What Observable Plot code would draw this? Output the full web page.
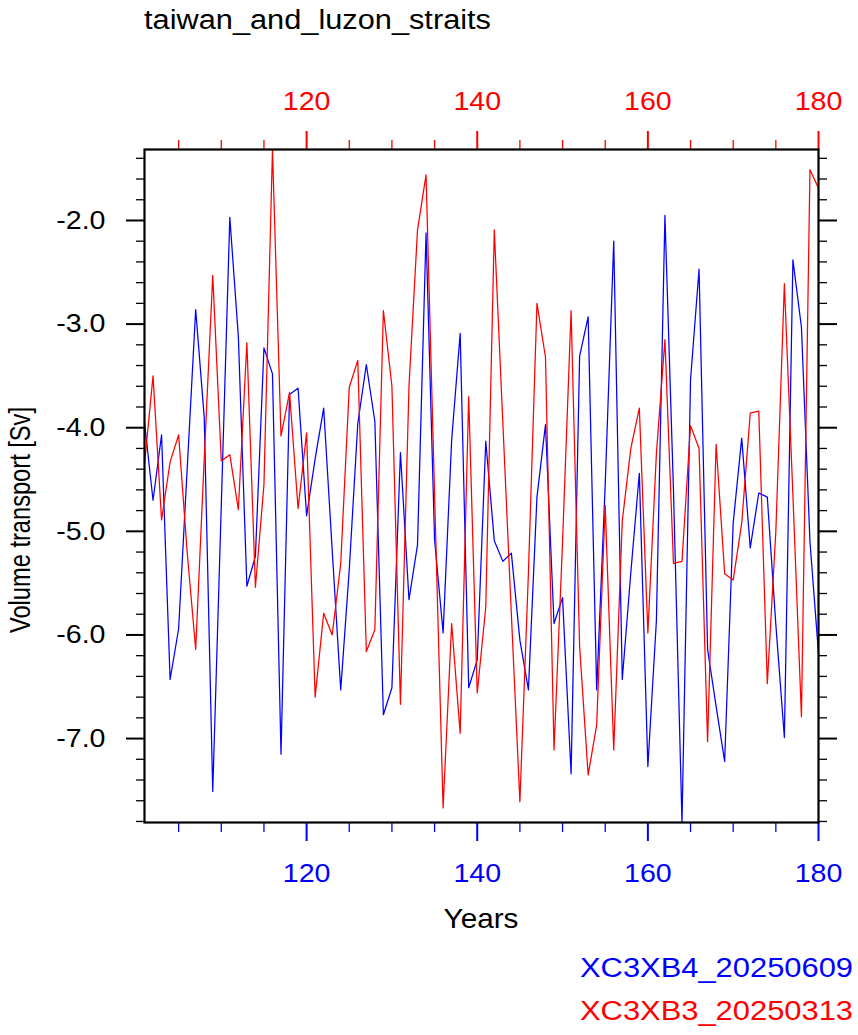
<!DOCTYPE html>
<html>
<head>
<meta charset="utf-8">
<script src="https://cdn.jsdelivr.net/npm/d3@7"></script>
<script src="https://cdn.jsdelivr.net/npm/@observablehq/plot@0.6"></script>
<style>
  html, body { margin: 0; padding: 0; background: #fff; }
  #chart svg { display: block; }
</style>
</head>
<body>
<div id="chart"></div>
<script>
// Annual volume transport through the Taiwan and Luzon straits, two model runs.
const title = "taiwan_and_luzon_straits";
const xLabel = "Years";
const yLabel = "Volume transport [Sv]";
const seriesNames = ["XC3XB4_20250609", "XC3XB3_20250313"];
const seriesColors = ["#0000ff", "#ff0000"];

const firstYear = 101;
const lastYear = 180;

// XC3XB4_20250609, years 101..180 [Sv]
const xc3xb4 = [
  -3.95, -4.70, -4.07, -6.43, -5.94, -4.40, -2.86, -3.90, -7.51, -4.75,
  -1.97, -3.12, -5.53, -5.24, -3.23, -3.48, -7.15, -3.68, -3.62, -4.85,
  -4.30, -3.81, -5.18, -6.53, -5.37, -3.96, -3.39, -3.94, -6.77, -6.51,
  -4.24, -5.66, -5.13, -2.12, -5.08, -5.98, -4.12, -3.09, -6.51, -6.24,
  -4.13, -5.09, -5.29, -5.21, -6.05, -6.53, -4.67, -3.97, -5.89, -5.64,
  -7.34, -3.31, -2.93, -6.53, -4.55, -2.20, -6.43, -5.40, -4.44, -7.27,
  -5.86, -1.95, -4.60, -7.81, -3.54, -2.47, -6.14, -6.69, -7.22, -4.92,
  -4.10, -5.16, -4.63, -4.67, -5.90, -6.99, -2.38, -3.03, -5.10, -6.18
];

// XC3XB3_20250313, years 101..180 [Sv]
const xc3xb3 = [
  -4.35, -3.50, -4.89, -4.33, -4.07, -5.20, -6.14, -4.30, -2.53, -4.32,
  -4.26, -4.79, -3.18, -5.54, -4.55, -1.315, -4.08, -3.66, -4.78, -4.05,
  -6.60, -5.79, -6.00, -5.31, -3.61, -3.35, -6.16, -5.95, -2.87, -3.60,
  -6.67, -3.60, -2.09, -1.56, -4.65, -7.67, -5.89, -6.95, -3.70, -6.56,
  -5.73, -2.09, -3.95, -5.80, -7.61, -5.40, -2.80, -3.32, -7.11, -5.10,
  -2.87, -6.11, -7.35, -6.87, -4.75, -7.11, -4.90, -4.20, -3.81, -5.98,
  -4.25, -3.15, -5.31, -5.29, -3.98, -4.20, -7.03, -4.16, -5.41, -5.47,
  -4.92, -3.86, -3.84, -6.47, -5.00, -2.61, -4.65, -6.79, -1.51, -1.69
];

// Tick positions
const xMajorTicks = [120, 140, 160, 180];
const xMinorTicks = [105, 110, 115, 125, 130, 135, 145, 150, 155, 165, 170, 175];
const yMajorTicks = [-7, -6, -5, -4, -3, -2];
const yMinorTicks = [-7.8, -7.6, -7.4, -7.2, -6.8, -6.6, -6.4, -6.2, -5.8, -5.6, -5.4, -5.2,
                     -4.8, -4.6, -4.4, -4.2, -3.8, -3.6, -3.4, -3.2, -2.8, -2.6, -2.4, -2.2,
                     -1.8, -1.6, -1.4];

const toRows = (vals, name) => vals.map((v, i) => ({year: firstYear + i, value: v, name}));
const rowsB4 = toRows(xc3xb4, seriesNames[0]);
const rowsB3 = toRows(xc3xb3, seriesNames[1]);

const W = 858, H = 1035;
const fontFamily = "'Liberation Sans', Arial, Helvetica, sans-serif";
const fontSize = 26;
const stretch = 1.1; // wide sans-serif look

const chart = Plot.plot({
  width: W,
  height: H,
  marginLeft: 144,
  marginRight: 40,
  marginTop: 149,
  marginBottom: 213,
  style: {fontFamily, background: "white", overflow: "visible"},
  x: {domain: [firstYear, lastYear]},
  y: {domain: d3.extent([...xc3xb4, ...xc3xb3])},
  marks: [
    Plot.line(rowsB4, {x: "year", y: "value", stroke: seriesColors[0], strokeWidth: 1.25}),
    Plot.line(rowsB3, {x: "year", y: "value", stroke: seriesColors[1], strokeWidth: 1.25}),

    // left and right y ticks (black), labels on the left only
    Plot.axisY({anchor: "left", ticks: yMinorTicks, tickSize: 8, tickFormat: () => "", strokeWidth: 1.3, label: null}),
    Plot.axisY({anchor: "left", ticks: yMajorTicks, tickSize: 18, tickPadding: 21, strokeWidth: 2,
                tickFormat: d => d.toFixed(1), fontSize, label: null}),
    Plot.axisY({anchor: "right", ticks: yMinorTicks, tickSize: 8, tickFormat: () => "", strokeWidth: 1.3, label: null}),
    Plot.axisY({anchor: "right", ticks: yMajorTicks, tickSize: 18, tickFormat: () => "", strokeWidth: 2, label: null}),

    // bottom x axis in the first series colour
    Plot.axisX({anchor: "bottom", ticks: xMinorTicks, tickSize: 10, tickFormat: () => "", color: seriesColors[0], strokeWidth: 1.3, label: null}),
    Plot.axisX({anchor: "bottom", ticks: xMajorTicks, tickSize: 19, tickPadding: 22, color: seriesColors[0], strokeWidth: 2,
                tickFormat: d => String(d), fontSize, label: null}),

    // top x axis in the second series colour
    Plot.axisX({anchor: "top", ticks: xMinorTicks, tickSize: 10, tickFormat: () => "", color: seriesColors[1], strokeWidth: 1.3, label: null}),
    Plot.axisX({anchor: "top", ticks: xMajorTicks, tickSize: 19, tickPadding: 21, color: seriesColors[1], strokeWidth: 2,
                tickFormat: d => String(d), fontSize, label: null}),

    Plot.frame({stroke: "black", strokeWidth: 2.2})
  ]
});

// Widen tick labels horizontally about their anchor point
d3.select(chart).selectAll("g[aria-label$='tick label'] text").each(function () {
  const t = this.getAttribute("transform");
  if (t) {
    this.setAttribute("transform", `${t} scale(${stretch},1)`);
  } else {
    const x = +this.getAttribute("x") || 0, y = +this.getAttribute("y") || 0;
    this.setAttribute("transform", `translate(${x},${y}) scale(${stretch},1) translate(${-x},${-y})`);
  }
});

const svg = d3.select(chart);
const labels = svg.append("g").attr("font-family", fontFamily);

// Title, left aligned with the frame
labels.append("text")
  .attr("x", 144).attr("y", 29)
  .attr("text-anchor", "start")
  .attr("font-size", 27)
  .attr("textLength", 347).attr("lengthAdjust", "spacingAndGlyphs")
  .attr("fill", "black")
  .text(title);

// x axis title
labels.append("text")
  .attr("transform", `translate(481,928) scale(${stretch},1)`)
  .attr("text-anchor", "middle")
  .attr("font-size", 27)
  .attr("fill", "black")
  .text(xLabel);

// y axis title
labels.append("text")
  .attr("transform", "translate(30,520) rotate(-90)")
  .attr("text-anchor", "middle")
  .attr("font-size", 29)
  .attr("textLength", 226).attr("lengthAdjust", "spacingAndGlyphs")
  .attr("fill", "black")
  .text(yLabel);

// Legend: series names, right aligned below the plot
seriesNames.forEach((name, i) => {
  labels.append("text")
    .attr("x", 853).attr("y", 977 + i * 43)
    .attr("text-anchor", "end")
    .attr("font-size", 27)
    .attr("textLength", 273).attr("lengthAdjust", "spacingAndGlyphs")
    .attr("fill", seriesColors[i])
    .text(name);
});

document.getElementById("chart").appendChild(chart);
</script>
</body>
</html>
